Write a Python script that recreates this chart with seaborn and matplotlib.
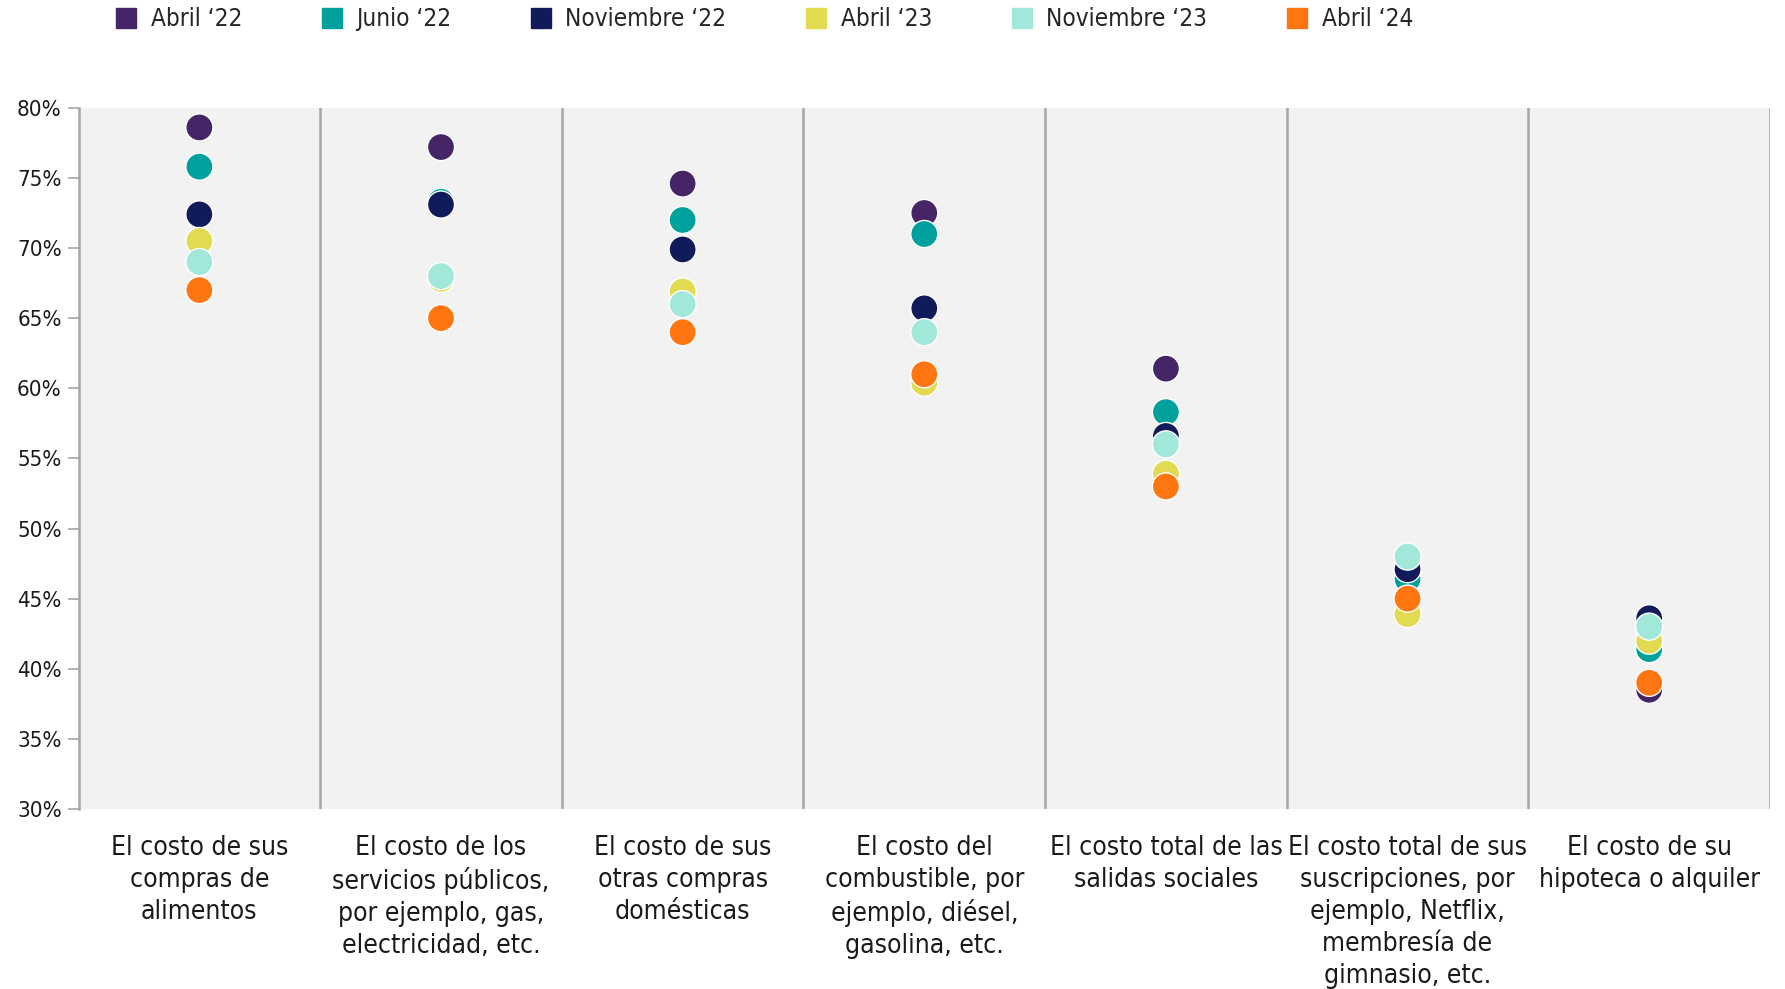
import pandas as pd
import seaborn as sns
import matplotlib.pyplot as plt
from matplotlib.lines import Line2D
from matplotlib.ticker import PercentFormatter

# Datos (porcentaje)
categorias = [
    'El costo de sus\ncompras de\nalimentos',
    'El costo de los\nservicios públicos,\npor ejemplo, gas,\nelectricidad, etc.',
    'El costo de sus\notras compras\ndomésticas',
    'El costo del\ncombustible, por\nejemplo, diésel,\ngasolina, etc.',
    'El costo total de las\nsalidas sociales',
    'El costo total de sus\nsuscripciones, por\nejemplo, Netflix,\nmembresía de\ngimnasio, etc.',
    'El costo de su\nhipoteca o alquiler',
]
series = ['Abril ‘22', 'Junio ‘22', 'Noviembre ‘22', 'Abril ‘23', 'Noviembre ‘23', 'Abril ‘24']
abril_22 = [78.6, 77.2, 74.6, 72.5, 61.4, 46.8, 38.5]
junio_22 = [75.8, 73.3, 72.0, 71.0, 58.3, 46.4, 41.4]
noviembre_22 = [72.4, 73.1, 69.9, 65.7, 56.6, 47.1, 43.6]
abril_23 = [70.5, 67.8, 66.9, 60.4, 53.9, 43.9, 42.0]
noviembre_23 = [69.0, 68.0, 66.0, 64.0, 56.0, 48.0, 43.0]
abril_24 = [67.0, 65.0, 64.0, 61.0, 53.0, 45.0, 39.0]
colores = ['#452565', '#00a19d', '#111b59', '#e2da50', '#a2e8da', '#ff7510']

valores = [abril_22, junio_22, noviembre_22, abril_23, noviembre_23, abril_24]
df = pd.DataFrame([
    {'categoria': c, 'serie': s, 'valor': v}
    for s, vals in zip(series, valores)
    for c, v in zip(categorias, vals)
])

sns.set_style('white')
plt.rcParams['font.family'] = ['DejaVu Sans']
plt.rcParams['font.stretch'] = 'condensed'

fig = plt.figure(figsize=(17.85, 9.89), dpi=100)
ax = fig.add_axes([0.044, 0.182, 0.9476, 0.709])
ax.set_facecolor('#f2f2f2')

sns.stripplot(data=df, x='categoria', y='valor', hue='serie', order=categorias,
              hue_order=series, palette=colores, jitter=False, dodge=False,
              size=19.5, linewidth=1, edgecolor='white', legend=False, ax=ax, zorder=3)

ax.set_xlim(-0.5, len(categorias) - 0.5)
ax.set_ylim(30, 80)
ax.set_yticks(range(30, 81, 5))
ax.yaxis.set_major_formatter(PercentFormatter(decimals=0))
for i in range(1, len(categorias) + 1):
    ax.axvline(i - 0.5, color='#a6a6a6', linewidth=1.8, zorder=1)

for lado in ['top', 'right', 'bottom']:
    ax.spines[lado].set_visible(False)
ax.spines['left'].set_color('#a6a6a6')
ax.spines['left'].set_linewidth(1.8)
ax.tick_params(axis='y', left=True, length=8, width=1.2, color='#a6a6a6',
               labelsize=16, labelcolor='#1a1a1a', pad=4)
ax.tick_params(axis='x', bottom=False, labelsize=19, labelcolor='#1a1a1a', pad=15)
for t in ax.get_xticklabels():
    t.set_linespacing(1.3)
ax.set_xlabel('')
ax.set_ylabel('')

handles = [Line2D([0], [0], marker='s', linestyle='', markersize=14,
                  markerfacecolor=c, markeredgecolor=c) for c in colores]
fig.legend(handles, series, loc='upper left', bbox_to_anchor=(0.053, 1.015),
           ncol=6, frameon=False, fontsize=17.5, handletextpad=0.6,
           columnspacing=3.3, handlelength=0.8)

fig.savefig('out.png', dpi=100)
